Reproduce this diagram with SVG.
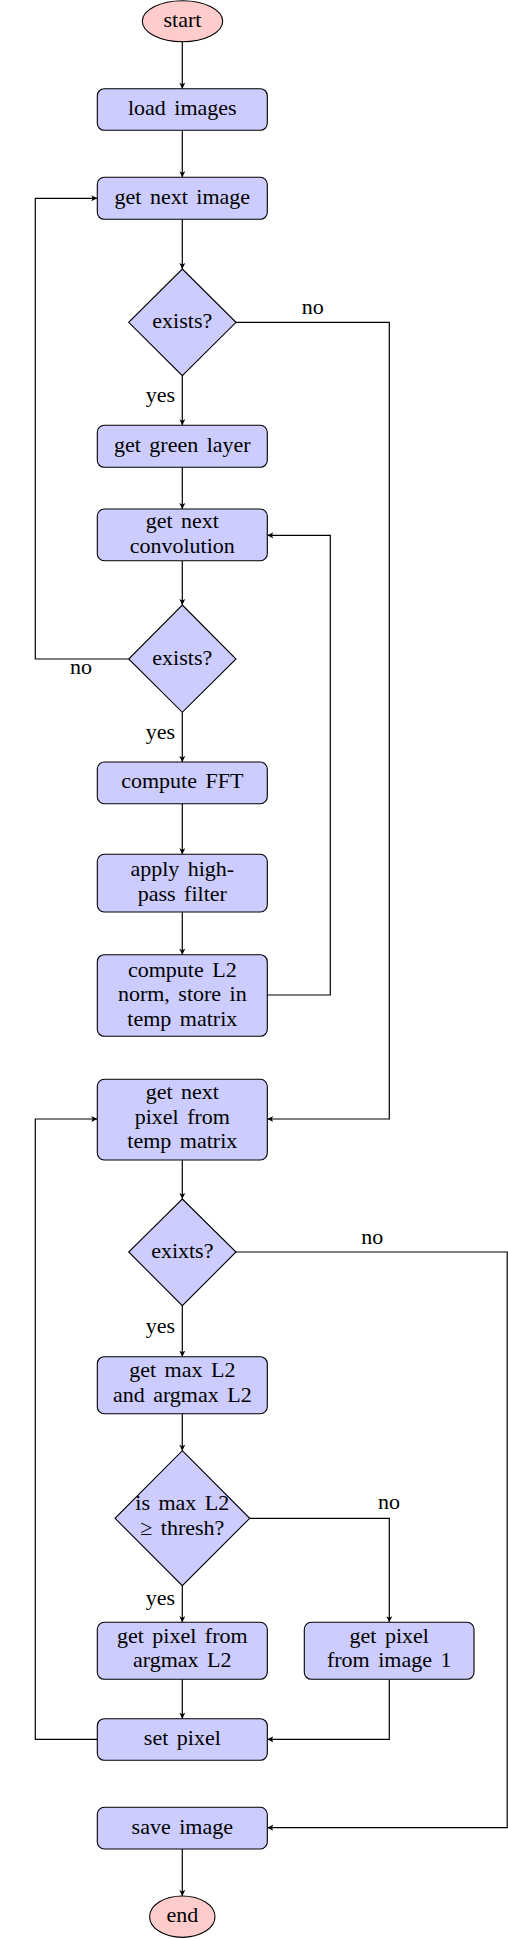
<svg xmlns="http://www.w3.org/2000/svg" width="508" height="1939" viewBox="0 0 508 1939">
<style>
.box{fill:#ccccff;stroke:#000;stroke-width:1.1}
.term{fill:#ffcccc;stroke:#000;stroke-width:1.1}
.t{font-family:"Liberation Serif","Times New Roman",serif;font-size:22px;fill:#000;text-anchor:middle;word-spacing:3px}
.lbl{font-family:"Liberation Serif","Times New Roman",serif;font-size:22px;fill:#000}
.c{fill:none;stroke:#000;stroke-width:1.2}
</style>
<defs>
<marker id="arr" markerUnits="userSpaceOnUse" markerWidth="8" markerHeight="8" refX="6" refY="4" orient="auto">
<path d="M0,1 L6,4 L0,7 L1.5,4 z" fill="#000"/>
</marker>
</defs>
<g id="connectors">
<path class="c" marker-end="url(#arr)" d="M182.3,41.7 V88.7"/>
<path class="c" marker-end="url(#arr)" d="M182.3,130.3 V177.3"/>
<path class="c" marker-end="url(#arr)" d="M182.3,219.3 V269"/>
<path class="c" marker-end="url(#arr)" d="M182.3,375.7 V425.3"/>
<path class="c" marker-end="url(#arr)" d="M236,322.3 H389.3 V1119 H267.3"/>
<path class="c" marker-end="url(#arr)" d="M182.3,467.3 V509"/>
<path class="c" marker-end="url(#arr)" d="M182.3,560.7 V605"/>
<path class="c" marker-end="url(#arr)" d="M128.7,659 H35.3 V198.3 H97.3"/>
<path class="c" marker-end="url(#arr)" d="M182.3,712.3 V762"/>
<path class="c" marker-end="url(#arr)" d="M182.3,803.7 V854.3"/>
<path class="c" marker-end="url(#arr)" d="M182.3,912 V954.7"/>
<path class="c" marker-end="url(#arr)" d="M267.3,995 H330.3 V535.3 H267.3"/>
<path class="c" marker-end="url(#arr)" d="M182.3,1160 V1199"/>
<path class="c" marker-end="url(#arr)" d="M236,1252 H507.2 V1827.7 H267.3"/>
<path class="c" marker-end="url(#arr)" d="M182.3,1305.7 V1356.7"/>
<path class="c" marker-end="url(#arr)" d="M182.3,1413.7 V1450.7"/>
<path class="c" marker-end="url(#arr)" d="M249.7,1518.3 H389.3 V1622.3"/>
<path class="c" marker-end="url(#arr)" d="M182.3,1585.7 V1622.3"/>
<path class="c" marker-end="url(#arr)" d="M182.3,1679.3 V1718.7"/>
<path class="c" marker-end="url(#arr)" d="M389.3,1679.3 V1739.3 H267.3"/>
<path class="c" marker-end="url(#arr)" d="M97.3,1739.3 H35.3 V1119 H97.3"/>
<path class="c" marker-end="url(#arr)" d="M182.3,1849 V1896"/>
<text class="lbl" x="312.7" y="314" text-anchor="middle">no</text>
<text class="lbl" x="175" y="402" text-anchor="end">yes</text>
<text class="lbl" x="81" y="674" text-anchor="middle">no</text>
<text class="lbl" x="175" y="739" text-anchor="end">yes</text>
<text class="lbl" x="372.3" y="1244" text-anchor="middle">no</text>
<text class="lbl" x="175" y="1332.5" text-anchor="end">yes</text>
<text class="lbl" x="389" y="1509" text-anchor="middle">no</text>
<text class="lbl" x="175" y="1605" text-anchor="end">yes</text>
</g>
<g id="start"><ellipse class="term" cx="182.5" cy="21.2" rx="40.2" ry="20.5"/><text class="t" x="182.5" y="26.7">start</text></g>
<g id="load"><rect class="box" x="97.3" y="88.7" width="170" height="41.6" rx="7"/><text class="t" x="182.3" y="115">load images</text></g>
<g id="nextimage"><rect class="box" x="97.3" y="177.3" width="170" height="42" rx="7"/><text class="t" x="182.3" y="203.8">get next image</text></g>
<g id="exists1"><polygon class="box" points="182.3,269 236,322.3 182.3,375.7 128.7,322.3"/><text class="t" x="182.3" y="328">exists?</text></g>
<g id="green"><rect class="box" x="97.3" y="425.3" width="170" height="42" rx="7"/><text class="t" x="182.3" y="451.8">get green layer</text></g>
<g id="conv"><rect class="box" x="97.3" y="509" width="170" height="51.7" rx="7"/><text class="t" x="182.3" y="528">get next</text><text class="t" x="182.3" y="552.5">convolution</text></g>
<g id="exists2"><polygon class="box" points="182.3,605 236,659 182.3,712.3 128.7,659"/><text class="t" x="182.3" y="664.5">exists?</text></g>
<g id="fft"><rect class="box" x="97.3" y="762" width="170" height="41.7" rx="7"/><text class="t" x="182.3" y="788.3">compute FFT</text></g>
<g id="highpass"><rect class="box" x="97.3" y="854.3" width="170" height="57.7" rx="7"/><text class="t" x="182.3" y="876">apply high-</text><text class="t" x="182.3" y="900.5">pass filter</text></g>
<g id="l2"><rect class="box" x="97.3" y="954.7" width="170" height="81.6" rx="7"/><text class="t" x="182.3" y="976.5">compute L2</text><text class="t" x="182.3" y="1001">norm, store in</text><text class="t" x="182.3" y="1025.5">temp matrix</text></g>
<g id="nextpixel"><rect class="box" x="97.3" y="1079.3" width="170" height="80.7" rx="7"/><text class="t" x="182.3" y="1099">get next</text><text class="t" x="182.3" y="1123.5">pixel from</text><text class="t" x="182.3" y="1148">temp matrix</text></g>
<g id="exists3"><polygon class="box" points="182.3,1199 236,1252 182.3,1305.7 128.7,1252"/><text class="t" x="182.3" y="1257.5">exixts?</text></g>
<g id="maxl2"><rect class="box" x="97.3" y="1356.7" width="170" height="57" rx="7"/><text class="t" x="182.3" y="1377">get max L2</text><text class="t" x="182.3" y="1401.5">and argmax L2</text></g>
<g id="thresh"><polygon class="box" points="182.3,1450.7 249.7,1518.3 182.3,1585.7 115,1518.3"/><text class="t" x="182.3" y="1510">is max L2</text><text class="t" x="182.3" y="1534.5">≥ thresh?</text></g>
<g id="argmax"><rect class="box" x="97.3" y="1622.3" width="170" height="57" rx="7"/><text class="t" x="182.3" y="1642.8">get pixel from</text><text class="t" x="182.3" y="1667.3">argmax L2</text></g>
<g id="image1"><rect class="box" x="304.3" y="1622.3" width="169.7" height="57" rx="7"/><text class="t" x="389.2" y="1642.8">get pixel</text><text class="t" x="389.2" y="1667.3">from image 1</text></g>
<g id="setpixel"><rect class="box" x="97.3" y="1718.7" width="170" height="41.6" rx="7"/><text class="t" x="182.3" y="1745">set pixel</text></g>
<g id="save"><rect class="box" x="97.3" y="1807.3" width="170" height="41.7" rx="7"/><text class="t" x="182.3" y="1833.5">save image</text></g>
<g id="end"><ellipse class="term" cx="182.3" cy="1916.7" rx="32.7" ry="20.7"/><text class="t" x="182.3" y="1922.2">end</text></g>
</svg>
